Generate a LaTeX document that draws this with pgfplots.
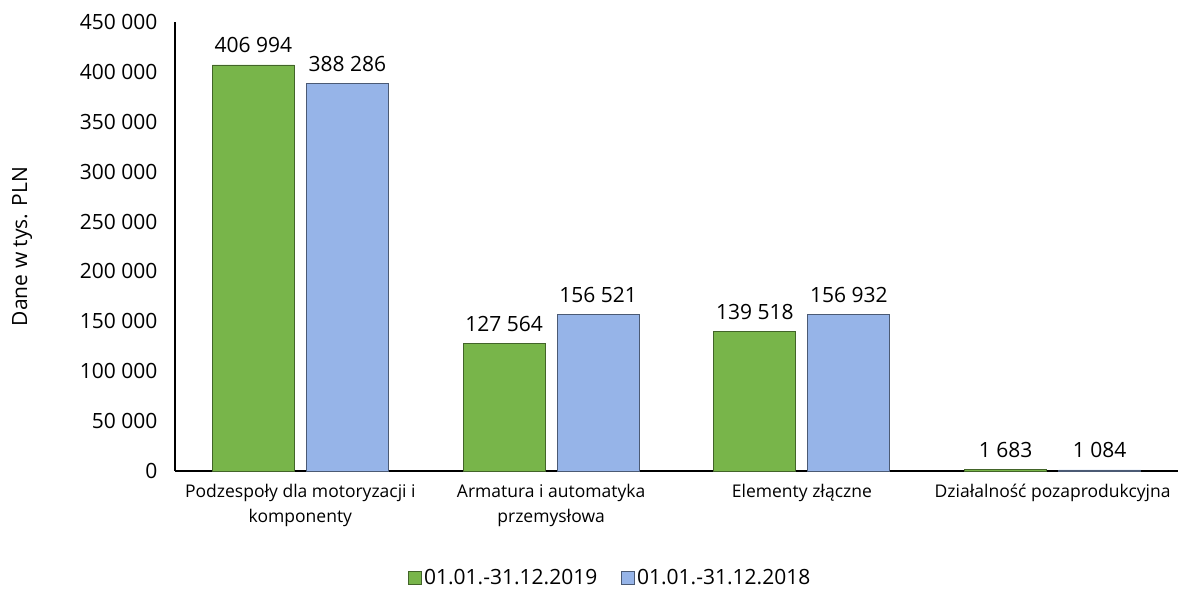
\documentclass[border=0pt]{standalone}
\usepackage{pgfplots}
\pgfplotsset{compat=1.18}
\usepackage{fontspec}
\setmainfont{Open Sans}
\definecolor{barg}{RGB}{120,181,74}
\definecolor{barb}{RGB}{150,180,232}
\begin{document}
\begin{tikzpicture}
\begin{axis}[name=ax, at={(0,0)}, anchor=south west,
  scale only axis, width=1003pt, height=449pt,
  ybar=12pt, bar width=82pt,
  ymin=0, ymax=450000, xmin=-0.5, xmax=3.5,
  ytick={0,50000,...,450000}, scaled y ticks=false,
  xtick={0,1,2,3},
  xticklabels={{Podzespoły dla motoryzacji i\\komponenty}, {Armatura i automatyka\\przemysłowa}, Elementy złączne, Działalność pozaprodukcyjna},
  axis x line*=bottom, axis y line*=left,
  axis line style={black, line width=1.3pt},
  major tick length=0pt, tick style={draw=none},
  /pgf/number format/assume math mode=true,
  /pgf/number format/fixed,
  /pgf/number format/precision=0,
  /pgf/number format/1000 sep={\ },
  yticklabel style={font=\fontsize{21}{25}\selectfont, xshift=-14pt},
  xticklabel style={font=\fontsize{17.5}{25}\selectfont, align=center, yshift=-10pt},
  ylabel={Dane w tys. PLN},
  ylabel style={font=\fontsize{21}{25}\selectfont, at={(axis description cs:-0.1525,0.5)}, anchor=center},
  nodes near coords,
  nodes near coords style={font=\fontsize{21}{25}\selectfont, black, yshift=8pt},
  legend style={at={(0.434,-0.238)}, anchor=center, draw=none, legend columns=2,
    font=\fontsize{21}{25}\selectfont,
    /tikz/every even column/.append style={column sep=22pt}},
  legend image code/.code={\draw[#1] (0pt,-6.5pt) rectangle (13pt,6.5pt);},
]
\addplot[fill=barg, draw=barg!55!black, line width=0.8pt] coordinates {(0,406994) (1,127564) (2,139518) (3,1683)};
\addplot[fill=barb, draw=barb!50!black, line width=0.8pt] coordinates {(0,388286) (1,156521) (2,156932) (3,1084)};
\legend{01.01.-31.12.2019, 01.01.-31.12.2018}
\end{axis}
\path ([xshift=-175pt,yshift=-119pt]ax.south west) rectangle ([xshift=10pt,yshift=22pt]ax.north east);
\end{tikzpicture}
\end{document}
